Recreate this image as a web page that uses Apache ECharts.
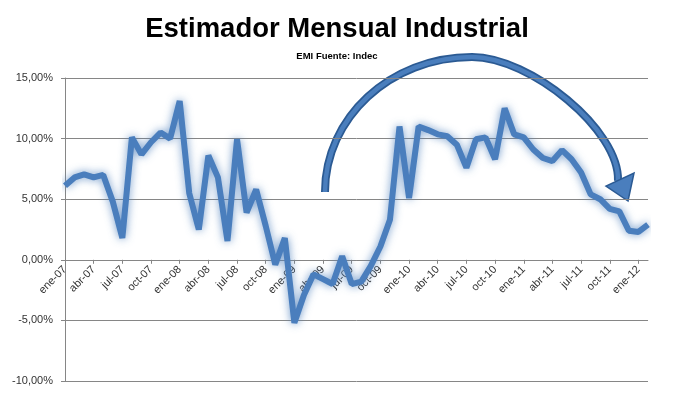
<!DOCTYPE html>
<html>
<head>
<meta charset="utf-8">
<script src="https://cdn.jsdelivr.net/npm/echarts@6/dist/echarts.min.js"></script>
<style>
html,body{margin:0;padding:0;background:#fff;}
#chart{width:674px;height:396px;}
</style>
</head>
<body>
<div id="chart"></div>
<script>
const titleText = 'Estimador Mensual Industrial';
const subtitleText = 'EMI Fuente: Indec';

const categories = [
  'ene-07','feb-07','mar-07','abr-07','may-07','jun-07','jul-07','ago-07','sep-07','oct-07','nov-07','dic-07',
  'ene-08','feb-08','mar-08','abr-08','may-08','jun-08','jul-08','ago-08','sep-08','oct-08','nov-08','dic-08',
  'ene-09','feb-09','mar-09','abr-09','may-09','jun-09','jul-09','ago-09','sep-09','oct-09','nov-09','dic-09',
  'ene-10','feb-10','mar-10','abr-10','may-10','jun-10','jul-10','ago-10','sep-10','oct-10','nov-10','dic-10',
  'ene-11','feb-11','mar-11','abr-11','may-11','jun-11','jul-11','ago-11','sep-11','oct-11','nov-11','dic-11',
  'ene-12','feb-12'
];

const emiValues = [
  6.1, 6.8, 7.05, 6.8, 7.0, 4.8, 1.8, 10.1, 8.7, 9.7, 10.5, 10.0,
  13.1, 5.5, 2.5, 8.6, 6.8, 1.55, 9.95, 3.9, 5.8, 2.8, -0.4, 1.8,
  -5.2, -2.9, -1.2, -1.6, -2.0, 0.3, -2.0, -1.8, -0.5, 1.1, 3.3, 11.0,
  5.1, 11.0, 10.7, 10.35, 10.2, 9.5, 7.6, 9.95, 10.1, 8.3, 12.5, 10.35,
  10.1, 9.1, 8.4, 8.15, 9.05, 8.3, 7.2, 5.4, 5.0, 4.2, 4.0, 2.4,
  2.3, 2.9
];

const yTicks = [-10, -5, 0, 5, 10, 15];

const W = 674, H = 396;
const gridTop = 78, gridBottom = 15;
const yMin = yTicks[0], yMax = yTicks[yTicks.length - 1];
const plotH = H - gridTop - gridBottom;
// shift label axis from the bottom of the grid up to the zero line
const labelOffset = -plotH * (0 - yMin) / (yMax - yMin);

const chart = echarts.init(document.getElementById('chart'));
const fmt = v => v.toFixed(2).replace('.', ',') + '%';

function arrowCurve(width, color) {
  return [
    {
      type: 'bezierCurve',
      shape: {x1: 325, y1: 192, cpx1: 325, cpy1: 118, cpx2: 390, cpy2: 57, x2: 472, y2: 57},
      style: {fill: null, stroke: color, lineWidth: width, lineCap: 'butt'}
    },
    {
      type: 'bezierCurve',
      shape: {x1: 472, y1: 57, cpx1: 530, cpy1: 57, cpx2: 620, cpy2: 130, x2: 618, y2: 181},
      style: {fill: null, stroke: color, lineWidth: width, lineCap: 'butt'}
    }
  ];
}

const labelStyle = {fontFamily: 'Liberation Sans', fontSize: 11, color: '#333'};

chart.setOption({
  backgroundColor: '#ffffff',
  animation: false,
  title: [
    {
      text: titleText, left: 'center', top: 15, padding: 0,
      textStyle: {fontFamily: 'Liberation Sans', fontWeight: 'bold', fontSize: 27.5, color: '#000'}
    },
    {
      text: subtitleText, left: 'center', top: 51, padding: 0,
      textStyle: {fontFamily: 'Liberation Sans', fontWeight: 'bold', fontSize: 9.5, color: '#000'}
    }
  ],
  grid: {left: 65, right: 26, top: gridTop, bottom: gridBottom, containLabel: false, outerBoundsMode: 'none'},
  xAxis: [
    {
      type: 'category',
      data: categories,
      boundaryGap: false,
      z: 0,
      axisLine: {show: true, onZero: true, lineStyle: {color: '#868686', width: 1}},
      axisTick: {show: true, interval: 2, length: 4, lineStyle: {color: '#868686'}},
      axisLabel: {show: false},
      splitLine: {show: false}
    },
    {
      type: 'category',
      data: categories,
      boundaryGap: false,
      position: 'bottom',
      offset: labelOffset,
      z: 0,
      axisLine: {show: false, onZero: false},
      axisTick: {show: false},
      axisLabel: Object.assign({interval: 2, rotate: 45, margin: 8, hideOverlap: false}, labelStyle),
      splitLine: {show: false}
    }
  ],
  yAxis: {
    type: 'value',
    min: yMin, max: yMax, interval: 5,
    z: 0,
    axisLine: {show: true, lineStyle: {color: '#868686', width: 1}},
    axisTick: {show: true, length: 4, lineStyle: {color: '#868686'}},
    axisLabel: Object.assign({formatter: fmt, margin: 12}, labelStyle),
    splitLine: {show: true, lineStyle: {color: '#868686', width: 1}}
  },
  series: [{
    type: 'line',
    xAxisIndex: 0,
    data: emiValues,
    showSymbol: false,
    symbol: 'none',
    smooth: false,
    lineStyle: {
      color: '#4a7ebd', width: 6,
      shadowColor: 'rgba(79,129,189,0.8)', shadowBlur: 9
    },
    zlevel: 1,
    z: 10
  }],
  graphic: [
    {
      type: 'group', zlevel: 2, z: 100,
      children: arrowCurve(8, '#2b5a93').concat(arrowCurve(4.5, '#4a7ebd')).concat([
        {
          type: 'polygon',
          shape: {points: [[628, 201], [606, 186], [634, 173]]},
          style: {fill: '#4a7ebd', stroke: '#2b5a93', lineWidth: 1.5}
        }
      ])
    }
  ]
});
</script>
</body>
</html>
